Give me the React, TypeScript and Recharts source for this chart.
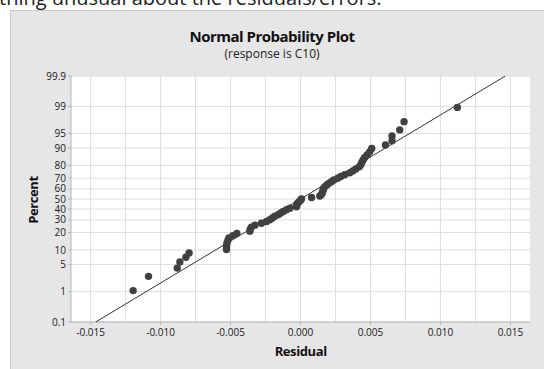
import React from 'react';
import { ScatterChart, Scatter, XAxis, YAxis, ZAxis, CartesianGrid } from 'recharts';

// Ordered residuals
const residuals = [
  -0.01196, -0.01086, -0.00881, -0.00862, -0.00819, -0.00796, -0.00529, -0.00529, -0.00526, -0.00519,
  -0.00512, -0.00484, -0.00455, -0.00362, -0.00359, -0.00351, -0.00326, -0.00279, -0.00243, -0.00219,
  -0.00201, -0.00184, -0.0016, -0.00141, -0.00123, -0.001, -0.00076, -0.00029, -0.00026, -0.00024,
  -0.00012, -0.00001, 0.00007, 0.00079, 0.00138, 0.0015, 0.00156, 0.00159, 0.00163, 0.00166,
  0.00174, 0.00188, 0.00202, 0.00221, 0.00238, 0.00266, 0.00288, 0.00316, 0.00352, 0.00374,
  0.00395, 0.0042, 0.00431, 0.00438, 0.00447, 0.00459, 0.00477, 0.00495, 0.00509, 0.00607,
  0.00654, 0.00654, 0.00709, 0.0074, 0.01121,
];

// Plotted percent of each residual
const percents = [
  1.07, 2.6, 4.13, 5.66, 7.19, 8.72, 10.24, 11.77, 13.3, 14.83,
  16.36, 17.89, 19.42, 20.95, 22.48, 24.01, 25.54, 27.06, 28.59, 30.12,
  31.65, 33.18, 34.71, 36.24, 37.77, 39.3, 40.83, 42.35, 43.88, 45.41,
  46.94, 48.47, 50.0, 51.53, 53.06, 54.59, 56.12, 57.65, 59.17, 60.7,
  62.23, 63.76, 65.29, 66.82, 68.35, 69.88, 71.41, 72.94, 74.46, 75.99,
  77.52, 79.05, 80.58, 82.11, 83.64, 85.17, 86.7, 88.23, 89.76, 91.28,
  92.81, 94.34, 95.87, 97.4, 98.93,
];

// Fitted normal line endpoints
const fitResiduals = [-0.01464, 0.01464];
const fitPercents = [0.1, 99.9];

const xTicks = [-0.015, -0.01, -0.005, 0, 0.005, 0.01, 0.015];
const xTickLabels = ['-0.015', '-0.010', '-0.005', '0.000', '0.005', '0.010', '0.015'];
const xGridValues = [-0.015, -0.0125, -0.01, -0.0075, -0.005, -0.0025, 0, 0.0025, 0.005, 0.0075, 0.01, 0.0125, 0.015];
const xDomain = [-0.0164, 0.0164];

const yTickPercents = [0.1, 1, 5, 10, 20, 30, 40, 50, 60, 70, 80, 90, 95, 99, 99.9];
const yTickLabels = ['0.1', '1', '5', '10', '20', '30', '40', '50', '60', '70', '80', '90', '95', '99', '99.9'];

function probit(p: number): number {
  const a = [-3.969683028665376e1, 2.209460984245205e2, -2.759285104469687e2, 1.38357751867269e2, -3.066479806614716e1, 2.506628277459239];
  const b = [-5.447609879822406e1, 1.615858368580409e2, -1.556989798598866e2, 6.680131188771972e1, -1.328068155288572e1];
  const c = [-7.784894002430293e-3, -3.223964580411365e-1, -2.400758277161838, -2.549732539343734, 4.374664141464968, 2.938163982698783];
  const d = [7.784695709041462e-3, 3.224671290700398e-1, 2.445134137142996, 3.754408661907416];
  const pl = 0.02425;
  const ph = 1 - pl;
  if (p < pl) {
    const q = Math.sqrt(-2 * Math.log(p));
    return (((((c[0] * q + c[1]) * q + c[2]) * q + c[3]) * q + c[4]) * q + c[5]) / ((((d[0] * q + d[1]) * q + d[2]) * q + d[3]) * q + 1);
  }
  if (p > ph) {
    const q = Math.sqrt(-2 * Math.log(1 - p));
    return -(((((c[0] * q + c[1]) * q + c[2]) * q + c[3]) * q + c[4]) * q + c[5]) / ((((d[0] * q + d[1]) * q + d[2]) * q + d[3]) * q + 1);
  }
  const q = p - 0.5;
  const r = q * q;
  return ((((((a[0] * r + a[1]) * r + a[2]) * r + a[3]) * r + a[4]) * r + a[5]) * q) / (((((b[0] * r + b[1]) * r + b[2]) * r + b[3]) * r + b[4]) * r + 1);
}

const FONT = '"Open Sans", "DejaVu Sans", sans-serif';
const yTickZ = yTickPercents.map((p) => probit(p / 100));
const zMax = probit(0.999);

const points = residuals.map((r, i) => ({ res: r, z: probit(percents[i] / 100) }));
const fitLine = fitResiduals.map((r, i) => ({ res: r, z: probit(fitPercents[i] / 100) }));

const Dot = (props: any) => <circle cx={props.cx} cy={props.cy} r={3.7} fill="#404040" />;
const NoDot = () => <g />;

export default function App() {
  return (
    <div style={{ position: 'absolute', left: 0, top: 0, width: 544, height: 369, overflow: 'hidden', background: '#fff', fontFamily: FONT }}>
      <svg width={544} height={369} style={{ position: 'absolute', left: 0, top: 0 }}>
        <text x={-1} y={5} fontSize={20} fill="#222" fontFamily={FONT}>thing unusual about the residuals/errors.</text>
        <rect x={10.5} y={10.5} width={700} height={500} fill="#e6e6e6" stroke="#c9c9c9" />
      </svg>
      <div style={{ position: 'absolute', left: 0, top: 0 }}>
        <ScatterChart width={544} height={369} margin={{ top: 76, right: 14, bottom: 17, left: 0 }}>
          <CartesianGrid fill="#ffffff" stroke="#dedede" verticalValues={xGridValues} horizontalValues={yTickZ} />
          <XAxis
            type="number"
            dataKey="res"
            domain={xDomain}
            ticks={xTicks}
            interval={0}
            height={30}
            tickSize={3}
            tickMargin={4}
            stroke="#b5b5b5"
            tick={{ fontSize: 10, fill: '#1a1a1a', fontFamily: FONT }}
            tickFormatter={(v: number, i: number) => xTickLabels[i]}
            allowDataOverflow
          />
          <XAxis xAxisId="top" orientation="top" type="number" domain={xDomain} height={0} tick={false} tickLine={false} stroke="#b5b5b5" allowDataOverflow />
          <YAxis
            type="number"
            dataKey="z"
            domain={[-zMax, zMax]}
            ticks={yTickZ}
            interval={0}
            width={71}
            tickSize={3}
            tickMargin={2}
            stroke="#b5b5b5"
            tick={{ fontSize: 10, fill: '#1a1a1a', fontFamily: FONT }}
            tickFormatter={(v: number, i: number) => yTickLabels[i]}
            allowDataOverflow
          />
          <YAxis yAxisId="right" orientation="right" type="number" domain={[-zMax, zMax]} width={0} tick={false} tickLine={false} stroke="#b5b5b5" allowDataOverflow />
          <ZAxis range={[45, 45]} />
          <Scatter data={fitLine} line={{ stroke: '#333333', strokeWidth: 1 }} shape={NoDot} isAnimationActive={false} />
          <Scatter data={points} shape={Dot} isAnimationActive={false} />
        </ScatterChart>
      </div>
      <svg width={544} height={369} style={{ position: 'absolute', left: 0, top: 0, pointerEvents: 'none' }}>
        <text x={272} y={42} textAnchor="middle" fontSize={15} fontWeight="bold" letterSpacing={-0.5} fill="#111" fontFamily={FONT}>Normal Probability Plot</text>
        <text x={272} y={57.5} textAnchor="middle" fontSize={12} fill="#222" fontFamily={FONT}>(response is C10)</text>
        <text x={300.7} y={356} textAnchor="middle" fontSize={13} fontWeight="bold" letterSpacing={-0.4} fill="#111" fontFamily={FONT}>Residual</text>
        <text x={0} y={0} transform="translate(38,200) rotate(-90)" textAnchor="middle" fontSize={13} fontWeight="bold" letterSpacing={-0.4} fill="#111" fontFamily={FONT}>Percent</text>
      </svg>
    </div>
  );
}
